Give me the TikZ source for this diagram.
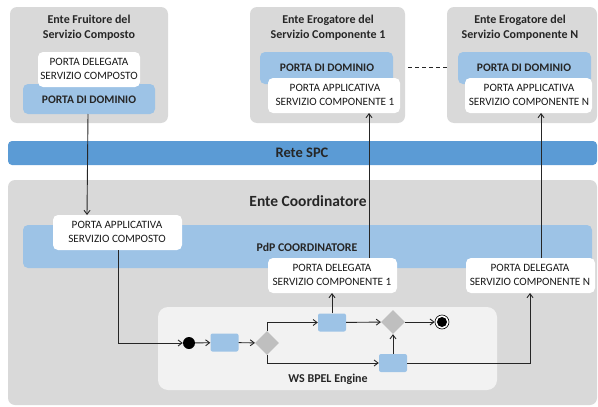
\documentclass[tikz,border=0pt]{standalone}
\usepackage{fontspec}
\setmainfont{Carlito}
\usetikzlibrary{arrows.meta,shapes.geometric}
\definecolor{boxgray}{HTML}{D9D9D9}
\definecolor{pdblue}{HTML}{9DC3E6}
\definecolor{netblue}{HTML}{5B9BD5}
\definecolor{enginegray}{HTML}{F2F2F2}
\definecolor{diagray}{HTML}{BFBFBF}
\definecolor{linecol}{HTML}{262626}
\tikzset{
  ente/.style={fill=boxgray, draw=none, rounded corners=7pt},
  pdd/.style={fill=pdblue, draw=none, rounded corners=5pt},
  wbox/.style={fill=white, draw=none, rounded corners=5pt},
  boxtxt/.style={font=\fontsize{11.2}{14}\selectfont, align=center, text=black!90},
  titletxt/.style={font=\bfseries\fontsize{12}{15}\selectfont, align=center, text=black!85},
  pddtxt/.style={font=\bfseries\fontsize{11.5}{12}\selectfont, text=black!85},
  act/.style={fill=pdblue, draw=none, rounded corners=2pt, minimum width=28pt, minimum height=18pt, inner sep=0pt},
  dia/.style={fill=diagray, draw=none, diamond, minimum width=24pt, minimum height=24pt, inner sep=0pt},
  conn/.style={draw=linecol, line width=0.9pt, -{Straight Barb[length=4pt,width=6pt]}},
  plain/.style={draw=linecol, line width=0.9pt}
}
\begin{document}
\begin{tikzpicture}[x=1pt,y=-1pt]
\useasboundingbox (0,0) rectangle (598,407);
% top boxes
\fill[ente] (10,7) rectangle (168,123);
\node[titletxt] (t1) at (89,28) {Ente Fruitore del\\Servizio Composto};
\fill[pdd] (23,84) rectangle (155,114);
\node[pddtxt] (pdd1) at (89,100) {PORTA DI DOMINIO};
\fill[wbox] (38,52) rectangle (140,87);
\node[boxtxt] (pdel0) at (89,69) {PORTA DELEGATA\\SERVIZIO COMPOSTO};
\coordinate (pdd1b) at (88,114);

\fill[ente] (250,7) rectangle (405,123);
\node[titletxt] (t2) at (328,28) {Ente Erogatore del\\Servizio Componente 1};
\fill[pdd] (260,52) rectangle (393,84);
\node[pddtxt] (pdd2) at (327,68) {PORTA DI DOMINIO};
\fill[wbox] (268,78) rectangle (400,113);
\node[boxtxt] (pa1) at (335,95) {PORTA APPLICATIVA\\SERVIZIO COMPONENTE 1};
\coordinate (pa1b) at (369,113);

\fill[ente] (447,7) rectangle (597,123);
\node[titletxt] (t3) at (520,28) {Ente Erogatore del\\Servizio Componente N};
\fill[pdd] (458,52) rectangle (591,84);
\node[pddtxt] (pdd3) at (524,68) {PORTA DI DOMINIO};
\fill[wbox] (465,78) rectangle (592,113);
\node[boxtxt] (paN) at (529,95) {PORTA APPLICATIVA\\SERVIZIO COMPONENTE N};
\coordinate (paNb) at (541,113);

\coordinate (dashL) at (408,67);
\coordinate (dashR) at (448,67);
\draw[plain, dash pattern=on 4pt off 3pt] (dashL) -- (dashR);

% Rete SPC
\fill[netblue, rounded corners=4pt] (8,141) rectangle (597,165);
\node[font=\bfseries\fontsize{14.5}{16}\selectfont, text=black!85] (spc) at (302,153) {Rete SPC};

% Ente Coordinatore
\fill[ente] (8,180) rectangle (597,405);
\node[font=\bfseries\fontsize{15.5}{17}\selectfont, text=black!85] (coord) at (308,201) {Ente Coordinatore};
\fill[pdd] (23,225) rectangle (592,268);
\node[pddtxt, font=\bfseries\fontsize{11.8}{13}\selectfont] (pdp) at (307,247) {PdP COORDINATORE};
\fill[wbox] (53,215) rectangle (182,250);
\node[boxtxt] (pac) at (117,232) {PORTA APPLICATIVA\\SERVIZIO COMPOSTO};
\coordinate (pact) at (87,215);
\coordinate (pacb) at (118,250);
\fill[wbox] (268,258) rectangle (397,293);
\node[boxtxt] (pd1) at (332,275) {PORTA DELEGATA\\SERVIZIO COMPONENTE 1};
\coordinate (pd1t) at (369,258);
\coordinate (pd1b) at (332,293);
\fill[wbox] (466,258) rectangle (595,293);
\node[boxtxt] (pdN) at (530,275) {PORTA DELEGATA\\SERVIZIO COMPONENTE N};
\coordinate (pdNt) at (541,258);
\coordinate (pdNb) at (530,293);

% WS BPEL engine
\fill[enginegray, rounded corners=10pt] (158,307) rectangle (497,390);
\node[font=\bfseries\fontsize{12}{13}\selectfont, text=black!85] (ws) at (328,379) {WS BPEL Engine};

\node[circle, fill=black, minimum size=12pt, inner sep=0pt] (start) at (189,343) {};
\node[act] (a1) at (224.5,342.5) {};
\node[dia] (d1) at (267,343) {};
\node[act] (a2) at (332,322.5) {};
\node[dia] (d2) at (393,322) {};
\node[circle, draw=black, line width=0.6pt, fill=white, minimum size=14pt, inner sep=0pt] (endo) at (442,322) {};
\node[circle, fill=black, minimum size=10pt, inner sep=0pt] (endi) at (442,322) {};
\node[act] (a3) at (393,363) {};

% connectors
\draw[conn] (pdd1b) -- (pact);
\draw[conn] (pd1t) -- (pa1b);
\draw[conn] (pdNt) -- (paNb);
\draw[conn] (pacb) |- (start.west);
\draw[conn] (start) -- (a1);
\draw[conn] (a1) -- (d1);
\draw[conn] (d1.north) |- (a2.west);
\draw[conn] (d1.south) |- (a3.west);
\draw[conn] (a2) -- (d2);
\draw[conn] (d2) -- (endo);
\draw[conn] (a2.north) -- (pd1b);
\draw[conn] (a3.north) -- (d2.south);
\draw[conn] (a3.east) -| (pdNb);
\end{tikzpicture}
\end{document}
